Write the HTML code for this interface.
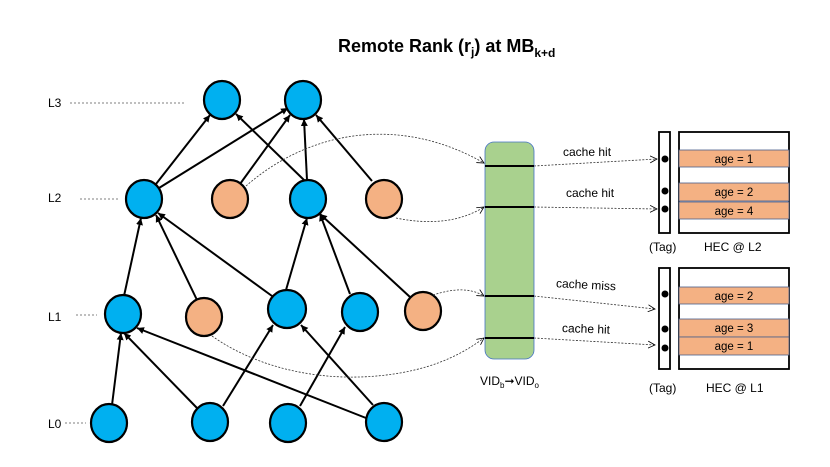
<!DOCTYPE html>
<html><head><meta charset="utf-8"><style>html,body{margin:0;padding:0;background:#fff}svg{display:block}</style></head>
<body>
<svg width="830" height="467" viewBox="0 0 830 467" xmlns="http://www.w3.org/2000/svg" font-family="Liberation Sans, sans-serif">
<defs>
<marker id="a" markerWidth="8" markerHeight="8" refX="7" refY="4" orient="auto" markerUnits="userSpaceOnUse"><path d="M0,0.5 L7,4 L0,7.5 Z" fill="#000"/></marker>
<marker id="d" markerWidth="8" markerHeight="8" refX="7" refY="4" orient="auto" markerUnits="userSpaceOnUse"><path d="M0,0.5 L7,4 L0,7.5" fill="none" stroke="#000" stroke-width="0.8"/></marker>
</defs>
<text x="338" y="52" font-size="18" font-weight="bold">Remote Rank (r<tspan font-size="12" dy="4">j</tspan><tspan dy="-4">) at MB</tspan><tspan font-size="12" dy="5">k+d</tspan></text>

<g font-size="12" fill="#000">
<text x="48" y="107">L3</text><text x="48" y="202">L2</text><text x="48" y="321">L1</text><text x="48" y="428">L0</text>
</g>
<g stroke="#555" stroke-width="0.8" stroke-dasharray="2,2">
<line x1="70" y1="103" x2="185" y2="103"/><line x1="80" y1="199" x2="118" y2="199"/>
<line x1="76" y1="315" x2="97" y2="315"/><line x1="65" y1="423" x2="86" y2="423"/>
</g>

<g stroke="#000" stroke-width="2" marker-end="url(#a)">
<line x1="156" y1="184" x2="210" y2="115"/>
<line x1="159" y1="188" x2="288" y2="108"/>
<line x1="240" y1="184" x2="290" y2="115"/>
<line x1="304" y1="180" x2="236" y2="114"/>
<line x1="307" y1="180" x2="304" y2="119"/>
<line x1="372" y1="181" x2="316" y2="115"/>
<line x1="124" y1="296" x2="141" y2="218"/>
<line x1="197" y1="300" x2="156" y2="215"/>
<line x1="272" y1="296" x2="158" y2="213"/>
<line x1="286" y1="290" x2="307" y2="218"/>
<line x1="350" y1="294" x2="320" y2="214"/>
<line x1="410" y1="297" x2="320" y2="214"/>
<line x1="112" y1="405" x2="121" y2="333"/>
<line x1="197" y1="408" x2="124" y2="333"/>
<line x1="223" y1="406" x2="273" y2="325"/>
<line x1="300" y1="406" x2="345" y2="327"/>
<line x1="366" y1="418" x2="137" y2="328"/>
<line x1="373" y1="405" x2="301" y2="325"/>
</g>

<g stroke="#000" stroke-width="2.2">
<g fill="#00b0f0">
<ellipse cx="222" cy="100" rx="18" ry="19"/><ellipse cx="303" cy="100" rx="18" ry="19"/>
<ellipse cx="144" cy="199" rx="18" ry="19"/><ellipse cx="308" cy="199" rx="18" ry="19"/>
<ellipse cx="123" cy="314" rx="18" ry="19"/><ellipse cx="287" cy="309" rx="19" ry="19"/><ellipse cx="360" cy="312" rx="18" ry="19"/>
<ellipse cx="109" cy="423" rx="18" ry="19"/><ellipse cx="210" cy="422" rx="18" ry="19"/><ellipse cx="288" cy="423" rx="18" ry="19"/><ellipse cx="384" cy="422" rx="18" ry="19"/>
</g>
<g fill="#f4b183">
<ellipse cx="230" cy="199" rx="18" ry="19"/><ellipse cx="384" cy="199" rx="18" ry="19"/>
<ellipse cx="204" cy="317" rx="18" ry="19"/><ellipse cx="423" cy="311" rx="18" ry="19"/>
</g>
</g>

<g fill="none" stroke="#333" stroke-width="0.8" stroke-dasharray="2,1.5" marker-end="url(#d)">
<path d="M246,186 C310,130 400,115 484,163"/>
<path d="M396,218 C430,225 460,222 484,207"/>
<path d="M433,295 C455,288 470,288 484,296"/>
<path d="M212,336 C260,370 330,385 400,373 C440,366 465,352 484,338"/>
<path d="M534,166 L657,159"/>
<path d="M534,207 L657,209"/>
<path d="M534,296 L655,309"/>
<path d="M534,338 L655,345"/>
</g>

<rect x="485" y="142" width="49" height="217" rx="9" fill="#a9d18e" stroke="#4472c4" stroke-width="0.8"/>
<g stroke="#000" stroke-width="2">
<line x1="485" y1="166" x2="534" y2="166"/><line x1="485" y1="207" x2="534" y2="207"/>
<line x1="485" y1="296" x2="534" y2="296"/><line x1="485" y1="338" x2="534" y2="338"/>
</g>

<g font-size="12" fill="#000">
<text x="563" y="156">cache hit</text>
<text x="566" y="197">cache hit</text>
<text x="556" y="289" transform="rotate(3 590 285)">cache miss</text>
<text x="562" y="333" transform="rotate(2 590 329)">cache hit</text>
<text x="480" y="385">VID<tspan font-size="8" dy="3">b</tspan><tspan dy="-3">➞VID</tspan><tspan font-size="8" dy="3">o</tspan></text>
<text x="649" y="251">(Tag)</text><text x="704" y="251">HEC @ L2</text>
<text x="649" y="392">(Tag)</text><text x="706" y="392">HEC @ L1</text>
</g>

<g stroke="#000" stroke-width="1.8" fill="#fff">
<rect x="659" y="132" width="11" height="101"/><rect x="679" y="132" width="110" height="101"/>
<rect x="659" y="268" width="11" height="101"/><rect x="679" y="268" width="110" height="101"/>
</g>
<g fill="#f4b183" stroke="#4a5f8a" stroke-width="0.8">
<rect x="679" y="150" width="110" height="17"/><rect x="679" y="183" width="110" height="18"/><rect x="679" y="202" width="110" height="17"/>
<rect x="679" y="287" width="110" height="17"/><rect x="679" y="319" width="110" height="18"/><rect x="679" y="337" width="110" height="18"/>
</g>
<g font-size="11.5" text-anchor="middle" fill="#000">
<text x="734" y="163">age = 1</text><text x="734" y="196">age = 2</text><text x="734" y="215">age = 4</text>
<text x="734" y="300">age = 2</text><text x="734" y="332">age = 3</text><text x="734" y="350">age = 1</text>
</g>
<g fill="#000">
<circle cx="665" cy="159" r="3.5"/><circle cx="665" cy="191" r="3.5"/><circle cx="665" cy="209" r="3.5"/>
<circle cx="665" cy="294" r="3.5"/><circle cx="665" cy="329" r="3.5"/><circle cx="665" cy="348" r="3.5"/>
</g>
</svg>
</body></html>
